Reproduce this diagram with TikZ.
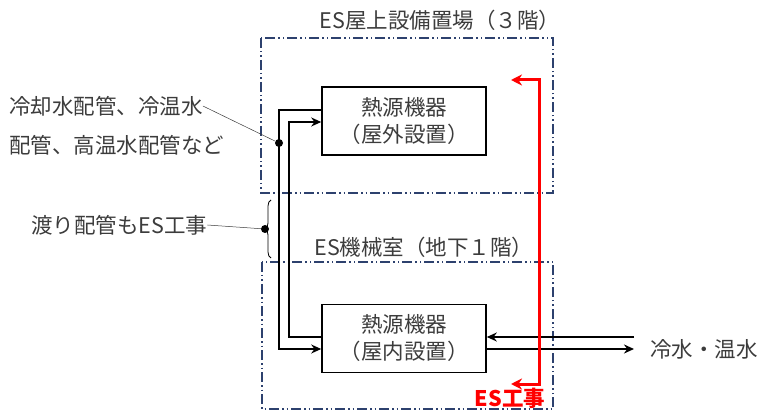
\documentclass[tikz,border=0pt]{standalone}
\usepackage{fontspec}
\setmainfont{Noto Sans CJK JP}
\usepackage{xcolor}
\usetikzlibrary{arrows.meta,decorations.pathreplacing,calc}
\definecolor{areablue}{RGB}{45,65,110}
\definecolor{txtgray}{RGB}{60,60,60}

\begin{document}
\begin{tikzpicture}[x=1pt,y=-1pt,
    area/.style={draw=areablue, line width=1.5pt, dash pattern=on 10pt off 3pt on 1.5pt off 3pt on 1.5pt off 3pt},
    unit/.style={draw, line width=1.6pt, minimum width=164pt, minimum height=68pt, align=center,
      text=txtgray, font=\fontsize{21.5}{27}\selectfont},
    pipe/.style={line width=1.6pt},
    ptip/.style={-{Stealth[length=10pt,width=9pt]}},
    lbl/.style={text=txtgray, font=\fontsize{21.5}{26}\selectfont, inner sep=0pt},
    lead/.style={draw=txtgray, line width=0.5pt},
    dot/.style={circle, fill, inner sep=0pt, minimum size=8pt}]
    \useasboundingbox (0,0) rectangle (762,411);
    % areas
    \draw[area] (261,38) rectangle (553,193);
    \draw[area] (262,262) rectangle (553,409);
    \node[lbl] (roof) at (440,20) {ES屋上設備置場（３階）};
    \node[lbl] (base) at (424,247) {ES機械室（地下１階）};
    % units
    \node[unit] (outdoor) at (404,121) {熱源機器\\（屋外設置）};
    \node[unit] (indoor) at (404,338.5) {熱源機器\\（屋内設置）};
    \coordinate (c1) at (279,110);
    \coordinate (c2) at (279,349);
    \coordinate (c3) at (289,337);
    \coordinate (c4) at (289,122);
    \draw[pipe,ptip] ($(outdoor.west)+(0,-11)$) -- (c1) -- (c2) -- (c2 -| indoor.west);
    \draw[pipe,ptip] ($(indoor.west)+(0,-1.5)$) -- (c3) -- (c4) -- (c4 -| outdoor.west);
    \coordinate (ret) at (634,337);
    \coordinate (sup) at (634,349);
    \draw[pipe,ptip] (ret) -- (ret -| indoor.east);
    \draw[pipe,ptip] (sup -| indoor.east) -- (sup);
    \node[lbl, anchor=west] (water) at (650,349) {冷水・温水};
    % ES work
    \coordinate (r1) at (511,80);
    \coordinate (r2) at (539,80);
    \coordinate (r3) at (539,384);
    \coordinate (r4) at (511,384);
    \draw[red, line width=3pt, {Stealth[length=11pt,width=11pt]}-{Stealth[length=11pt,width=11pt]}] (r1) -- (r2) -- (r3) -- (r4);
    \node[lbl, text=red, font=\fontsize{21.5}{26}\selectfont\bfseries] (eswork) at (510,398) {ES工事};
    % notes
    \node[lbl, anchor=west] (note1) at (9,106) {冷却水配管、冷温水};
    \node[lbl, anchor=west] (note2) at (9,145) {配管、高温水配管など};
    \node[dot] (d1) at (279,143) {};
    \draw[lead] (note1.east) -- (d1);
    \draw[decorate, decoration={brace, amplitude=6pt}, line width=0.8pt] (271,258) -- (271,200);
    \node[lbl, anchor=west] (note3) at (31,225) {渡り配管もES工事};
    \node[dot] (d2) at (265,229) {};
    \draw[lead] (note3.east) -- (d2);
\end{tikzpicture}
\end{document}
